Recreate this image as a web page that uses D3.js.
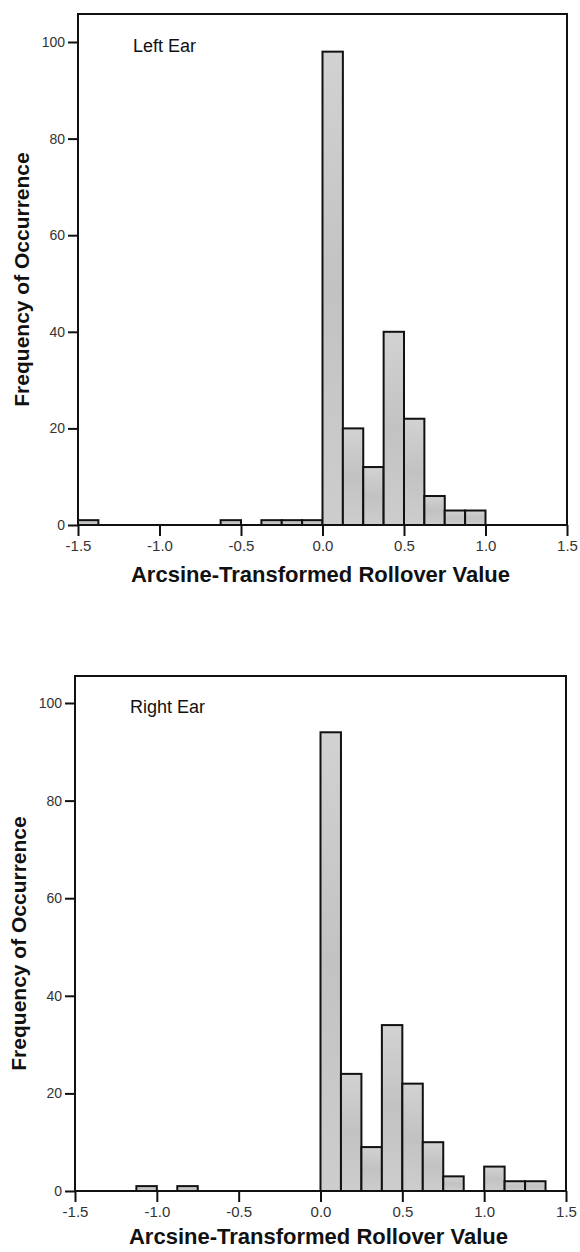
<!DOCTYPE html>
<html>
<head>
<meta charset="utf-8">
<script src="https://cdn.jsdelivr.net/npm/d3@7"></script>
<style>
  html, body { margin: 0; padding: 0; background: #fff; }
  svg { display: block; }
</style>
</head>
<body>
<svg id="chart" width="580" height="1252"></svg>
<script>
// ---- Data ----
const binWidth = 0.125;
const xTicks = [-1.5, -1.0, -0.5, 0.0, 0.5, 1.0, 1.5];
const yTicks = [0, 20, 40, 60, 80, 100];

const leftEarBinStarts = [-1.5, -0.625, -0.375, -0.25, -0.125, 0, 0.125, 0.25, 0.375, 0.5, 0.625, 0.75, 0.875];
const leftEarCounts    = [1, 1, 1, 1, 1, 98, 20, 12, 40, 22, 6, 3, 3];

const rightEarBinStarts = [-1.125, -0.875, 0, 0.125, 0.25, 0.375, 0.5, 0.625, 0.75, 1.0, 1.125, 1.25];
const rightEarCounts    = [1, 1, 94, 24, 9, 34, 22, 10, 3, 5, 2, 2];

const panelTitles = ["Left Ear", "Right Ear"];
const xTitle = "Arcsine-Transformed Rollover Value";
const yTitle = "Frequency of Occurrence";

// ---- Layout ----
const panels = [
  { title: panelTitles[0], starts: leftEarBinStarts, counts: leftEarCounts,
    left: 78, right: 567, top: 14, zero: 525, hundred: 42, titleDy: 57 },
  { title: panelTitles[1], starts: rightEarBinStarts, counts: rightEarCounts,
    left: 75, right: 566, top: 676, zero: 1191, hundred: 703, titleDy: 53 }
];

const svg = d3.select("#chart");
const defs = svg.append("defs");
const grad = defs.append("linearGradient").attr("id", "barFill")
  .attr("x1", 0).attr("y1", 0).attr("x2", 0).attr("y2", 1);
grad.append("stop").attr("offset", "0%").attr("stop-color", "#d2d2d2");
grad.append("stop").attr("offset", "50%").attr("stop-color", "#c2c2c2");
grad.append("stop").attr("offset", "100%").attr("stop-color", "#cdcdcd");

const fmt = d => d.toFixed(1);
const FONT = "Liberation Sans, Arial, sans-serif";

panels.forEach(p => {
  const x = d3.scaleLinear().domain([-1.5, 1.5]).range([p.left, p.right]);
  const y = d3.scaleLinear().domain([0, 100]).range([p.zero, p.hundred]);
  const g = svg.append("g");

  const bins = p.starts.map((s, i) => ({ x0: s, x1: s + binWidth, n: p.counts[i] }));

  g.selectAll("rect.bar").data(bins).enter().append("rect")
    .attr("class", "bar")
    .attr("x", d => x(d.x0))
    .attr("y", d => y(d.n))
    .attr("width", d => x(d.x1) - x(d.x0))
    .attr("height", d => y(0) - y(d.n))
    .attr("fill", "url(#barFill)")
    .attr("stroke", "#111")
    .attr("stroke-width", 2);

  // frame
  g.append("rect")
    .attr("x", p.left).attr("y", p.top)
    .attr("width", p.right - p.left).attr("height", p.zero - p.top)
    .attr("fill", "none").attr("stroke", "#111").attr("stroke-width", 2);

  // y axis
  const ya = g.append("g").attr("transform", `translate(${p.left},0)`)
    .call(d3.axisLeft(y).tickValues(yTicks).tickSize(10).tickSizeOuter(0).tickPadding(3));
  ya.select(".domain").remove();
  ya.selectAll(".tick line").attr("stroke", "#111").attr("stroke-width", 2);
  ya.selectAll(".tick text").attr("font-family", FONT)
    .attr("font-size", 14).attr("fill", "#333");

  // x axis
  const xa = g.append("g").attr("transform", `translate(0,${p.zero})`)
    .call(d3.axisBottom(x).tickValues(xTicks).tickFormat(fmt).tickSize(11).tickSizeOuter(0).tickPadding(4));
  xa.select(".domain").remove();
  xa.selectAll(".tick line").attr("stroke", "#111").attr("stroke-width", 2);
  xa.selectAll(".tick text").attr("font-family", FONT)
    .attr("font-size", 15).attr("fill", "#333");

  // panel title
  g.append("text")
    .attr("x", p.left + 55).attr("y", y(100) + 10)
    .attr("font-family", FONT)
    .attr("font-size", 18).attr("fill", "#111")
    .text(p.title);

  // x axis title
  g.append("text")
    .attr("x", (p.left + p.right) / 2 - 2).attr("y", p.zero + p.titleDy)
    .attr("text-anchor", "middle")
    .attr("font-family", FONT)
    .attr("font-weight", "bold").attr("font-size", 22).attr("fill", "#111")
    .text(xTitle);

  // y axis title
  g.append("text")
    .attr("transform", `translate(${p.left - 49},${(p.top + p.zero) / 2 + 10}) rotate(-90)`)
    .attr("text-anchor", "middle")
    .attr("font-family", FONT)
    .attr("font-weight", "bold").attr("font-size", 21).attr("fill", "#111")
    .text(yTitle);
});
</script>
</body>
</html>
